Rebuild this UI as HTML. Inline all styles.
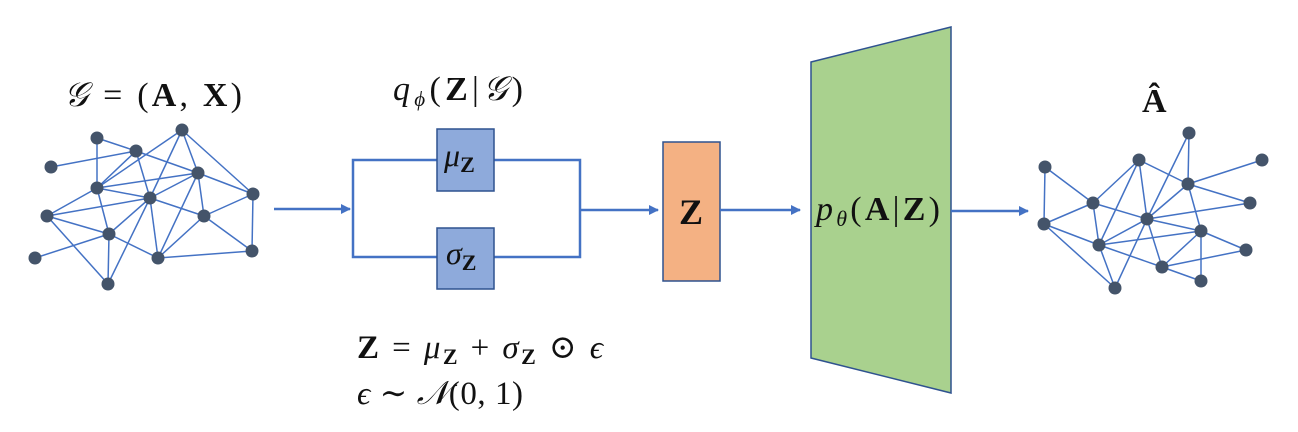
<!DOCTYPE html>
<html><head><meta charset="utf-8"><style>
html,body{margin:0;padding:0;background:#fff;width:1298px;height:432px;overflow:hidden}
text{font-family:"Liberation Serif","DejaVu Serif",serif;fill:#111}
.b{font-weight:bold;font-style:normal}
.i{font-style:italic}
</style></head><body>
<svg width="1298" height="432" viewBox="0 0 1298 432">
<defs><marker id="ah" markerWidth="10" markerHeight="10" refX="9" refY="5" orient="auto" markerUnits="userSpaceOnUse"><path d="M0,0 L10,5 L0,10 z" fill="#4472c4"/></marker></defs>
<g id="g1"></g>
<g id="g2"></g>
<text x="64" y="106" font-size="34" textLength="178" lengthAdjust="spacing"><tspan class="i">𝒢</tspan> = (<tspan class="b">A</tspan>, <tspan class="b">X</tspan>)</text>
<line x1="274" y1="209" x2="350" y2="209" stroke="#4472c4" stroke-width="2.5" marker-end="url(#ah)"/>
<text x="393" y="100" font-size="34" textLength="130" lengthAdjust="spacing"><tspan class="i">q</tspan><tspan class="i" font-size="21" dy="6">ϕ</tspan><tspan dy="-6">(</tspan><tspan class="b">Z</tspan>|<tspan class="i">𝒢</tspan>)</text>
<polyline points="437,160 353,160 353,257 437,257" fill="none" stroke="#4472c4" stroke-width="2.5"/>
<polyline points="494,160 580,160 580,257 494,257" fill="none" stroke="#4472c4" stroke-width="2.5"/>
<rect x="437" y="129" width="57" height="62" fill="#8eaadb" stroke="#2f528f" stroke-width="1.5"/>
<text x="444" y="166" font-size="32"><tspan class="i">μ</tspan><tspan class="b" font-size="22" dy="6">Z</tspan></text>
<rect x="437" y="228" width="57" height="61" fill="#8eaadb" stroke="#2f528f" stroke-width="1.5"/>
<text x="446" y="264" font-size="32"><tspan class="i">σ</tspan><tspan class="b" font-size="22" dy="6">Z</tspan></text>
<line x1="580" y1="210" x2="658" y2="210" stroke="#4472c4" stroke-width="2.5" marker-end="url(#ah)"/>
<rect x="663" y="142" width="57" height="139" fill="#f4b183" stroke="#2f528f" stroke-width="1.5"/>
<text x="691" y="224" font-size="36" text-anchor="middle" class="b">Z</text>
<line x1="720" y1="210" x2="800" y2="210" stroke="#4472c4" stroke-width="2.5" marker-end="url(#ah)"/>
<polygon points="811,62 951,27 951,393 811,358" fill="#a9d18e" stroke="#2f528f" stroke-width="1.5"/>
<text x="816" y="220" font-size="34" textLength="124" lengthAdjust="spacing"><tspan class="i">p</tspan><tspan class="i" font-size="22" dy="6">θ</tspan><tspan dy="-6">(</tspan><tspan class="b">A</tspan>|<tspan class="b">Z</tspan>)</text>
<line x1="951" y1="211" x2="1028" y2="211" stroke="#4472c4" stroke-width="2.5" marker-end="url(#ah)"/>
<text x="1142" y="112" font-size="34" class="b">Â</text>
<text x="357" y="358" font-size="33" textLength="246" lengthAdjust="spacing"><tspan class="b">Z</tspan> = <tspan class="i">μ</tspan><tspan class="b" font-size="22" dy="6">Z</tspan><tspan dy="-6"> + </tspan><tspan class="i">σ</tspan><tspan class="b" font-size="22" dy="6">Z</tspan><tspan dy="-6"> ⊙ </tspan><tspan class="i">ϵ</tspan></text>
<text x="357" y="404" font-size="33" textLength="166" lengthAdjust="spacing"><tspan class="i">ϵ</tspan> ∼ <tspan class="i">𝒩</tspan>(0, 1)</text>
</svg>
<script>
const nodes1=[[97,138],[182,130],[136,151],[51,167],[198,173],[97,188],[150,198],[253,194],[47,216],[204,216],[109,234],[35,258],[158,258],[252,251],[108,284]];
const edges1=[[0,2],[0,5],[3,2],[2,5],[2,4],[2,6],[1,5],[1,6],[1,4],[1,7],[5,4],[5,6],[5,8],[5,10],[4,6],[4,7],[4,9],[4,12],[6,8],[6,9],[6,10],[6,12],[6,14],[8,10],[8,14],[10,11],[10,12],[10,14],[9,7],[9,12],[9,13],[7,13],[12,13]];
const nodes2=[[1189,133],[1262,160],[1139,160],[1045,167],[1188,184],[1250,203],[1093,203],[1147,219],[1044,224],[1201,231],[1099,245],[1246,250],[1162,267],[1201,281],[1115,288]];
const edges2=[[0,4],[0,7],[1,4],[2,6],[2,10],[2,7],[2,4],[3,8],[3,6],[4,7],[4,5],[4,9],[6,8],[6,7],[6,10],[8,10],[8,14],[7,5],[7,9],[7,10],[7,12],[7,14],[10,9],[10,12],[10,14],[9,12],[9,13],[9,11],[11,12],[12,13]];
const NS='http://www.w3.org/2000/svg';
function draw(gid,nodes,edges){
 const g=document.getElementById(gid);
 edges.forEach(e=>{const l=document.createElementNS(NS,'line');
  l.setAttribute('x1',nodes[e[0]][0]);l.setAttribute('y1',nodes[e[0]][1]);
  l.setAttribute('x2',nodes[e[1]][0]);l.setAttribute('y2',nodes[e[1]][1]);
  l.setAttribute('stroke','#4472c4');l.setAttribute('stroke-width','1.5');
  
  
  g.appendChild(l);});
 nodes.forEach(n=>{const c=document.createElementNS(NS,'circle');
  c.setAttribute('cx',n[0]);c.setAttribute('cy',n[1]);c.setAttribute('r','6.5');
  c.setAttribute('fill','#44546a');
  
  
  g.appendChild(c);});
}
draw('g1',nodes1,edges1);draw('g2',nodes2,edges2);
</script>
</body></html>
